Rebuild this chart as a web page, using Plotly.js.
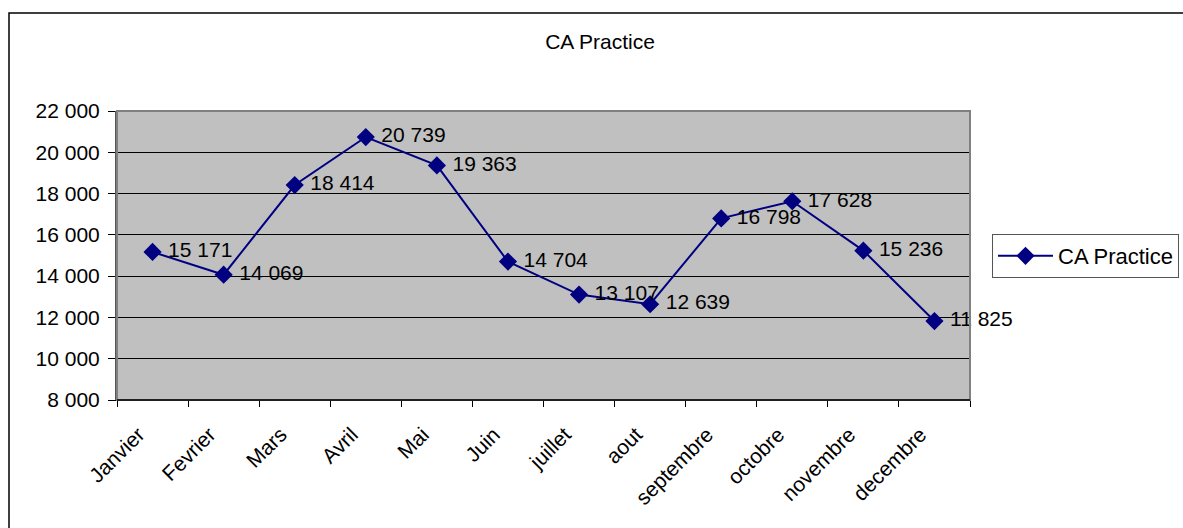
<!DOCTYPE html>
<html>
<head>
<meta charset="utf-8">
<script src="https://cdn.plot.ly/plotly-3.0.1.min.js"></script>
<style>
html,body{margin:0;padding:0;background:#fff;overflow:hidden;}
#chart{width:1183px;height:528px;}
</style>
</head>
<body>
<div id="chart"></div>
<script>
const months = ["Janvier","Fevrier","Mars","Avril","Mai","Juin","juillet","aout","septembre","octobre","novembre","decembre"];
const caPractice = [15171, 14069, 18414, 20739, 19363, 14704, 13107, 12639, 16798, 17628, 15236, 11825];
const seriesName = "CA Practice";
const chartTitle = "CA Practice";

const font = "Arial, 'Liberation Sans', sans-serif";
const L = 117, R = 970, T = 111, B = 400, W = 1183, H = 528;
const pw = R - L, ph = B - T;
const px = v => (v - L) / pw;
const py = v => (B - v) / ph;

const trace = {
  x: months,
  y: caPractice,
  name: seriesName,
  type: "scatter",
  mode: "lines+markers+text",
  line: {color: "#000080", width: 2},
  marker: {symbol: "diamond", size: 14, color: "#000080", line: {width: 0}},
  texttemplate: " %{y:,d}",
  textposition: "middle right",
  textfont: {family: font, size: 21, color: "#000"},
  cliponaxis: false,
  hoverinfo: "skip"
};

const layout = {
  width: W, height: H,
  margin: {l: L, r: W - R, t: T, b: H - B, autoexpand: false},
  paper_bgcolor: "#fff",
  plot_bgcolor: "#C0C0C0",
  separators: ", ",
  font: {family: font, size: 21, color: "#000"},
  title: {text: chartTitle, font: {family: font, size: 21, color: "#000"}, xref: "container", x: 600 / W, xanchor: "center", yref: "container", y: 1 - 42 / H, yanchor: "middle"},
  showlegend: true,
  legend: {
    x: px(992), xanchor: "left", y: py(256), yanchor: "middle",
    bgcolor: "#fff", bordercolor: "#555", borderwidth: 1,
    font: {family: font, size: 22, color: "#000"},
    itemwidth: 55
  },
  xaxis: {
    type: "category",
    range: [-0.5, 11.5],
    autorange: false,
    tickson: "boundaries",
    ticks: "outside", ticklen: 6, tickcolor: "#000", tickwidth: 1,
    tickangle: -45,
    ticklabelstandoff: 13,
    ticklabelshift: -14,
    showgrid: false,
    showline: true, linecolor: "#000", linewidth: 1,
    zeroline: false,
    automargin: false,
    tickfont: {family: font, size: 21, color: "#000"},
    fixedrange: true
  },
  yaxis: {
    range: [8000, 22000],
    autorange: false,
    dtick: 2000, tick0: 8000,
    tickformat: ",d",
    ticks: "outside", ticklen: 7, tickcolor: "#000", tickwidth: 1,
    ticklabelstandoff: 4,
    showgrid: true, gridcolor: "#000", gridwidth: 1,
    showline: true, linecolor: "#555", linewidth: 2,
    zeroline: false,
    automargin: false,
    tickfont: {family: font, size: 21, color: "#000"},
    fixedrange: true
  },
  shapes: [
    {type: "rect", xref: "paper", yref: "paper", x0: px(L), x1: px(R), y0: 0, y1: 1, line: {color: "#808080", width: 2}, layer: "above"},
    {type: "line", xref: "paper", yref: "paper", x0: px(L), x1: px(R), y0: 0, y1: 0, line: {color: "#000", width: 1.5}, layer: "above"},
    {type: "rect", xref: "paper", yref: "paper", x0: px(9), x1: px(1300), y0: py(700), y1: py(13), line: {color: "#000", width: 1.5}, layer: "below"}
  ]
};

Plotly.newPlot("chart", [trace], layout, {displayModeBar: false, staticPlot: true});
</script>
</body>
</html>
